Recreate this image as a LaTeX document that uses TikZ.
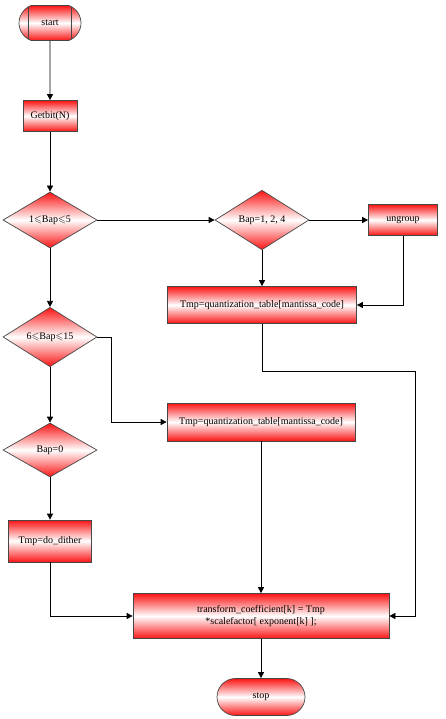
\documentclass[tikz,border=0pt]{standalone}
\usepackage{amssymb}
\usepackage{fontspec}
\setmainfont{Liberation Serif}
\usetikzlibrary{arrows.meta,positioning,shapes.geometric,shapes.misc}
\definecolor{flowred}{RGB}{250,20,20}
\definecolor{edgegray}{RGB}{70,70,70}
\tikzset{
  redfill/.style={top color=flowred, bottom color=flowred, middle color=white,
                  draw=edgegray, line width=0.7pt, font=\fontsize{10}{12}\selectfont,
                  align=center, inner sep=1pt},
  procbox/.style={redfill, rectangle},
  decision/.style={redfill, diamond, minimum width=94pt, minimum height=56pt},
  terminal/.style={redfill, rounded rectangle},
  arrow/.style={-{Triangle[length=6pt,width=6pt]}, line width=0.7pt, black},
}

\begin{document}
\begin{tikzpicture}[x=1pt,y=-1pt]
\useasboundingbox (0,0) rectangle (445,719);
\node[terminal, rounded rectangle arc length=140, minimum width=64pt, minimum height=35pt,
  path picture={
    \draw[edgegray, line width=0.7pt] ([xshift=12pt]path picture bounding box.north west) -- ([xshift=12pt]path picture bounding box.south west);
    \draw[edgegray, line width=0.7pt] ([xshift=-12pt]path picture bounding box.north east) -- ([xshift=-12pt]path picture bounding box.south east);
  }] (start) at (50,23) {start};
\node[procbox, minimum width=54pt, minimum height=31pt] (getbit) at (50,116) {Getbit(N)};

\node[decision] (bapa) at (50,220) {1$\leqslant$Bap$\leqslant$5};
\node[decision] (bapb) at (262,220) {Bap=1, 2, 4};
\node[procbox, minimum width=69pt, minimum height=31pt] (ungroup) at (403,220) {ungroup};
\node[procbox, minimum width=189pt, minimum height=37pt] (tmpa) at (262,305) {Tmp=quantization\_table[mantissa\_code]};

\node[decision] (bapc) at (50,337) {6$\leqslant$Bap$\leqslant$15};
\node[procbox, minimum width=188pt, minimum height=38pt] (tmpb) at (261,422) {Tmp=quantization\_table[mantissa\_code]};
\node[decision, minimum height=54pt] (bapd) at (50,450) {Bap=0};
\node[procbox, minimum width=83pt, minimum height=42pt] (dither) at (50,541) {Tmp=do\_dither};

\node[procbox, minimum width=256pt, minimum height=45pt] (result) at (261,616)
  {transform\_coefficient[k] = Tmp\\*scalefactor[ exponent[k] ];};
\node[terminal, minimum width=90pt, minimum height=37pt] (stop) at (261,697) {stop};

\coordinate (bend) at (415,371);

% main column
\foreach \a/\b in {start/getbit, getbit/bapa, bapa/bapc, bapc/bapd, bapd/dither}
  \draw[arrow] (\a) -- (\b);
% right branch
\draw[arrow] (bapa) -- (bapb);
\draw[arrow] (bapb) -- (ungroup);
\draw[arrow] (bapb) -- (tmpa);
\draw[arrow] (ungroup.south) |- (tmpa.east);
\draw[arrow] (bapc.east) -- ++(14,0) |- (tmpb.west);
% merge
\draw[arrow] (tmpb) -- (result);
\draw[arrow] (dither.south) |- (result.west);
\draw[arrow] (tmpa.south) |- (bend) |- (result.east);
\draw[arrow] (result) -- (stop);
\end{tikzpicture}
\end{document}
